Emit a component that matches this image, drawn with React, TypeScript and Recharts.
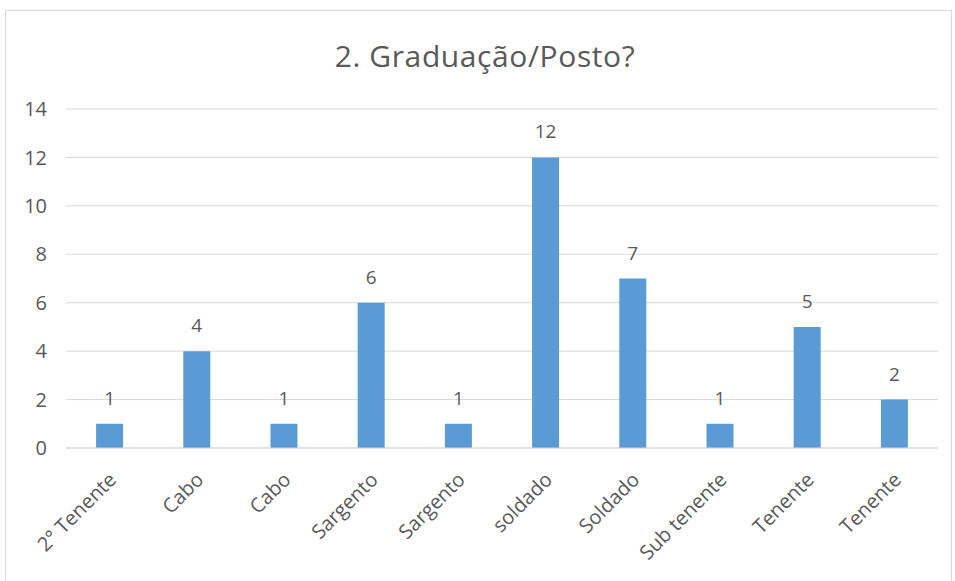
import React from "react";
import { BarChart, Bar, XAxis, YAxis, CartesianGrid, LabelList } from "recharts";

const categories = [
  "2° Tenente",
  "Cabo",
  "Cabo",
  "Sargento",
  "Sargento",
  "soldado",
  "Soldado",
  "Sub tenente",
  "Tenente",
  "Tenente",
];
const counts = [1, 4, 1, 6, 1, 12, 7, 1, 5, 2];
const yTicks = [0, 2, 4, 6, 8, 10, 12, 14];

const data = categories.map((name, i) => ({ key: `${name}-${i}`, name, value: counts[i] }));

const FONT = "'Open Sans', 'Noto Sans', sans-serif";
const TEXT = "#595959";

function AngledTick(props: any) {
  const { x, y, payload } = props;
  const label = categories[payload.index] ?? payload.value;
  return (
    <g transform={`translate(${x + 3},${y + 20})`}>
      <text
        x={0}
        y={0}
        dy={7}
        textAnchor="end"
        transform="rotate(-45)"
        fill={TEXT}
        fontSize={20}
        fontFamily={FONT}
      >
        {label}
      </text>
    </g>
  );
}

export default function App() {
  return (
    <div style={{ position: "absolute", left: 0, top: 0, width: 955, height: 581, background: "#fff" }}>
      <div
        style={{
          position: "absolute",
          left: 5,
          top: 10,
          width: 947,
          height: 575,
          border: "1px solid #d9d9d9",
          boxSizing: "border-box",
        }}
      />
      <div
        style={{
          position: "absolute",
          left: 0,
          top: 35,
          width: 970,
          textAlign: "center",
          fontFamily: FONT,
          fontSize: 30,
          letterSpacing: 0.6,
          color: TEXT,
        }}
      >
        2. Graduação/Posto?
      </div>
      <div style={{ position: "absolute", left: 0, top: 0 }}>
        <BarChart
          width={955}
          height={581}
          data={data}
          margin={{ top: 109, right: 17, bottom: 0, left: 0 }}
          barCategoryGap="34.5%"
        >
          <CartesianGrid vertical={false} stroke="#d9d9d9" />
          <XAxis
            dataKey="key"
            height={133}
            interval={0}
            tickLine={false}
            axisLine={{ stroke: "#d9d9d9" }}
            tick={<AngledTick />}
          />
          <YAxis
            width={66}
            domain={[0, 14]}
            ticks={yTicks}
            axisLine={false}
            tickLine={false}
            tick={{ fill: TEXT, fontSize: 20, fontFamily: FONT }}
            tickMargin={13}
          />
          <Bar dataKey="value" fill="#5b9bd5" isAnimationActive={false}>
            <LabelList
              dataKey="value"
              position="top"
              offset={19}
              fill={TEXT}
              fontSize={19}
              fontFamily={FONT}
            />
          </Bar>
        </BarChart>
      </div>
    </div>
  );
}
